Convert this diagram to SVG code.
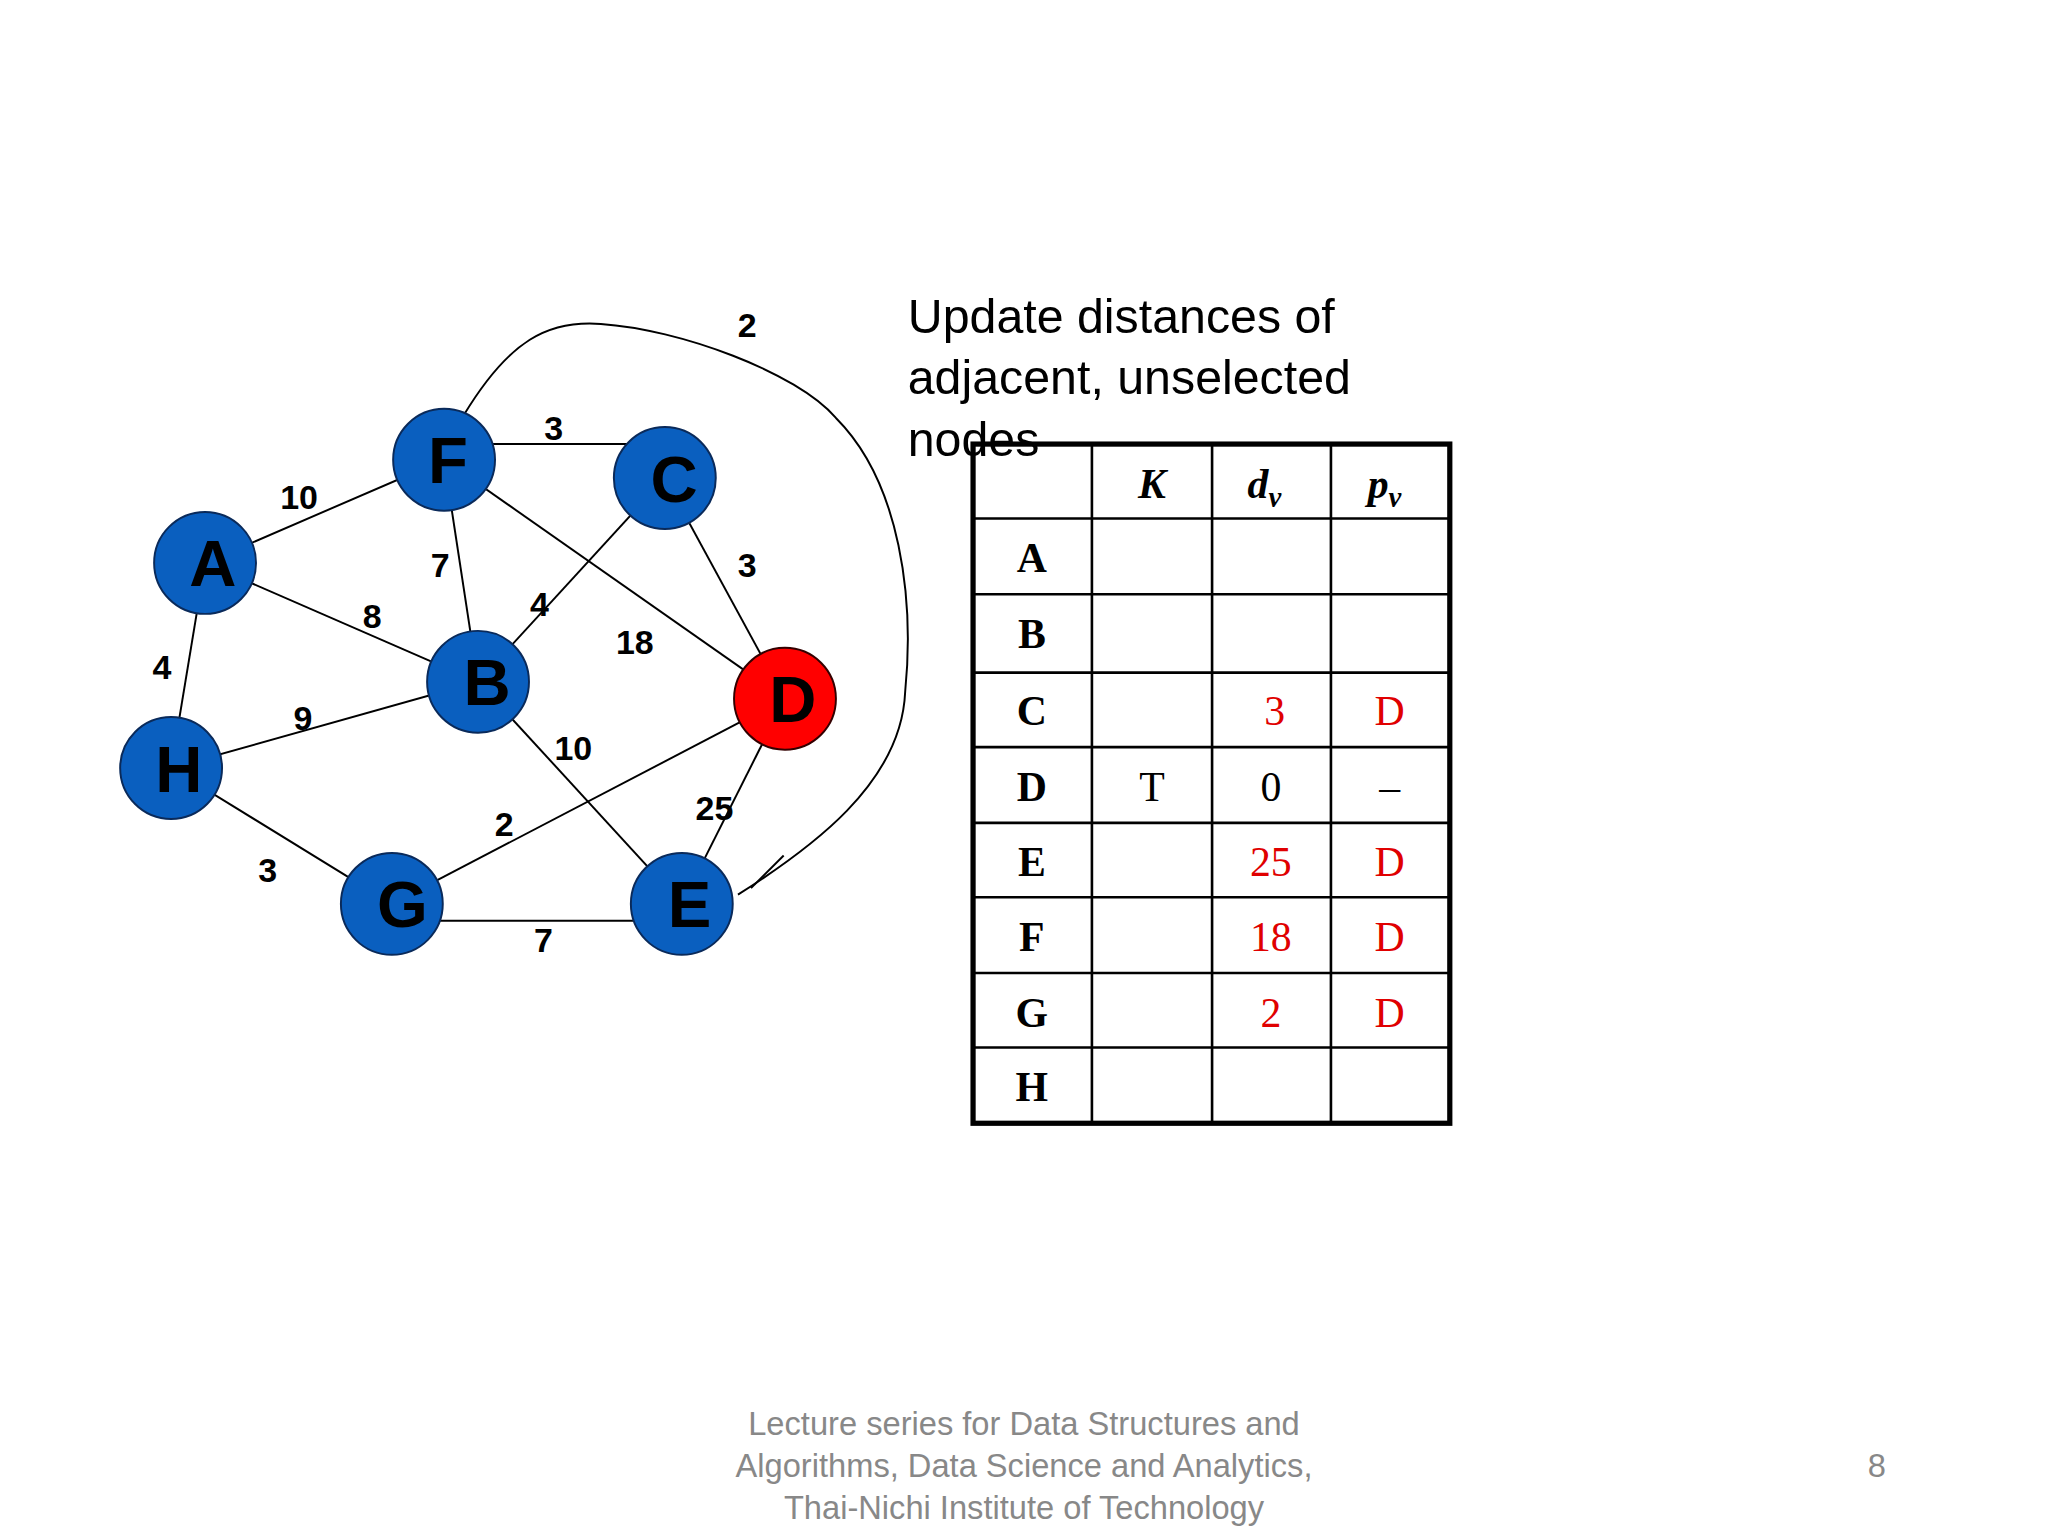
<svg xmlns="http://www.w3.org/2000/svg" width="2048" height="1536" viewBox="0 0 2048 1536">
<style>
.n{fill:#0a5fbf;stroke:#0a2a5a;stroke-width:1.5}
.nl{font-family:"Liberation Sans",Arial,sans-serif;font-weight:bold;font-size:50px;text-anchor:middle;fill:#000}
.e{stroke:#000;stroke-width:1.5;fill:none}
.w{font-family:"Liberation Sans",Arial,sans-serif;font-weight:bold;font-size:26px;text-anchor:middle;fill:#000}
.t{font-family:"Liberation Serif","Times New Roman",serif;font-size:32px;text-anchor:middle}
.tb{font-weight:bold}
.r{fill:#e00000}
.g{stroke:#000;stroke-width:2}
.f{font-family:"Liberation Sans",Arial,sans-serif;font-size:25px;fill:#888;text-anchor:middle}
</style>
<rect width="2048" height="1536" fill="#fff"/>
<g transform="scale(1.30612)">
<g id="connectors">
<line class="e" x1="157" y1="431" x2="340" y2="352"/>
<line class="e" x1="157" y1="431" x2="366" y2="522"/>
<line class="e" x1="157" y1="431" x2="131" y2="588"/>
<line class="e" x1="340" y1="340" x2="509" y2="340"/>
<line class="e" x1="340" y1="352" x2="366" y2="522"/>
<line class="e" x1="340" y1="352" x2="601" y2="535"/>
<line class="e" x1="509" y1="366" x2="366" y2="522"/>
<line class="e" x1="509" y1="366" x2="601" y2="535"/>
<line class="e" x1="366" y1="522" x2="131" y2="588"/>
<line class="e" x1="366" y1="522" x2="522" y2="692"/>
<line class="e" x1="601" y1="535" x2="300" y2="692"/>
<line class="e" x1="601" y1="535" x2="522" y2="692"/>
<line class="e" x1="131" y1="588" x2="300" y2="692"/>
<line class="e" x1="300" y1="705" x2="522" y2="705"/>
<path class="e" d="M355 318 C390 260 420 245 460 248 C520 252 610 285 640 320 C690 370 700 460 693 530 C690 600 620 650 565 685"/>
<line class="e" x1="575" y1="680" x2="600" y2="655"/>
</g>
<g id="weights">
<text class="w" x="572" y="258">2</text>
<text class="w" x="424" y="337">3</text>
<text class="w" x="229" y="390">10</text>
<text class="w" x="337" y="442">7</text>
<text class="w" x="572" y="442">3</text>
<text class="w" x="285" y="481">8</text>
<text class="w" x="413" y="472">4</text>
<text class="w" x="486" y="501">18</text>
<text class="w" x="124" y="520">4</text>
<text class="w" x="232" y="559">9</text>
<text class="w" x="439" y="582">10</text>
<text class="w" x="386" y="640">2</text>
<text class="w" x="547" y="628">25</text>
<text class="w" x="205" y="675">3</text>
<text class="w" x="416" y="729">7</text>
</g>
<g id="F"><circle class="n" cx="340" cy="352" r="39"/><text class="nl" x="343" y="370">F</text></g>
<g id="C"><circle class="n" cx="509" cy="366" r="39"/><text class="nl" x="516" y="384">C</text></g>
<g id="A"><circle class="n" cx="157" cy="431" r="39"/><text class="nl" x="163" y="449">A</text></g>
<g id="B"><circle class="n" cx="366" cy="522" r="39"/><text class="nl" x="373" y="540">B</text></g>
<g id="D"><circle cx="601" cy="535" r="39" fill="#f00" stroke="#300" stroke-width="1.5"/><text class="nl" x="607" y="553">D</text></g>
<g id="H"><circle class="n" cx="131" cy="588" r="39"/><text class="nl" x="137" y="606">H</text></g>
<g id="G"><circle class="n" cx="300" cy="692" r="39"/><text class="nl" x="308" y="710">G</text></g>
<g id="E"><circle class="n" cx="522" cy="692" r="39"/><text class="nl" x="528" y="710">E</text></g>
<g id="caption" font-family="Liberation Sans,Arial,sans-serif" font-size="37">
<text x="695" y="255">Update distances of</text>
<text x="695" y="302">adjacent, unselected</text>
<text x="695" y="349">nodes</text>
</g>
<g id="table">
<rect x="745" y="340" width="365" height="520" fill="none" stroke="#000" stroke-width="4"/>
<g class="g">
<line x1="836" y1="340" x2="836" y2="860"/><line x1="928" y1="340" x2="928" y2="860"/><line x1="1019" y1="340" x2="1019" y2="860"/>
<line x1="745" y1="397" x2="1110" y2="397"/><line x1="745" y1="455" x2="1110" y2="455"/><line x1="745" y1="515" x2="1110" y2="515"/>
<line x1="745" y1="572" x2="1110" y2="572"/><line x1="745" y1="630" x2="1110" y2="630"/><line x1="745" y1="687" x2="1110" y2="687"/>
<line x1="745" y1="745" x2="1110" y2="745"/><line x1="745" y1="802" x2="1110" y2="802"/>
</g>
<text class="t tb" x="882" y="381" font-style="italic">K</text>
<text class="t tb" x="968" y="381" font-style="italic">d<tspan font-size="22" dy="7">v</tspan></text>
<text class="t tb" x="1060" y="381" font-style="italic">p<tspan font-size="22" dy="7">v</tspan></text>
<text class="t tb" x="790" y="438">A</text>
<text class="t tb" x="790" y="496">B</text>
<text class="t tb" x="790" y="555">C</text>
<text class="t tb" x="790" y="613">D</text>
<text class="t tb" x="790" y="671">E</text>
<text class="t tb" x="790" y="728">F</text>
<text class="t tb" x="790" y="786">G</text>
<text class="t tb" x="790" y="843">H</text>
<text class="t r" x="976" y="555">3</text><text class="t r" x="1064" y="555">D</text>
<text class="t" x="882" y="613">T</text><text class="t" x="973" y="613">0</text><text class="t" x="1064" y="613">–</text>
<text class="t r" x="973" y="671">25</text><text class="t r" x="1064" y="671">D</text>
<text class="t r" x="973" y="728">18</text><text class="t r" x="1064" y="728">D</text>
<text class="t r" x="973" y="786">2</text><text class="t r" x="1064" y="786">D</text>
</g>
<g id="footer">
<text class="f" x="784" y="1099">Lecture series for Data Structures and</text>
<text class="f" x="784" y="1131">Algorithms, Data Science and Analytics,</text>
<text class="f" x="784" y="1163">Thai-Nichi Institute of Technology</text>
<text class="f" x="1437" y="1131">8</text>
</g>
</g>
</svg>
